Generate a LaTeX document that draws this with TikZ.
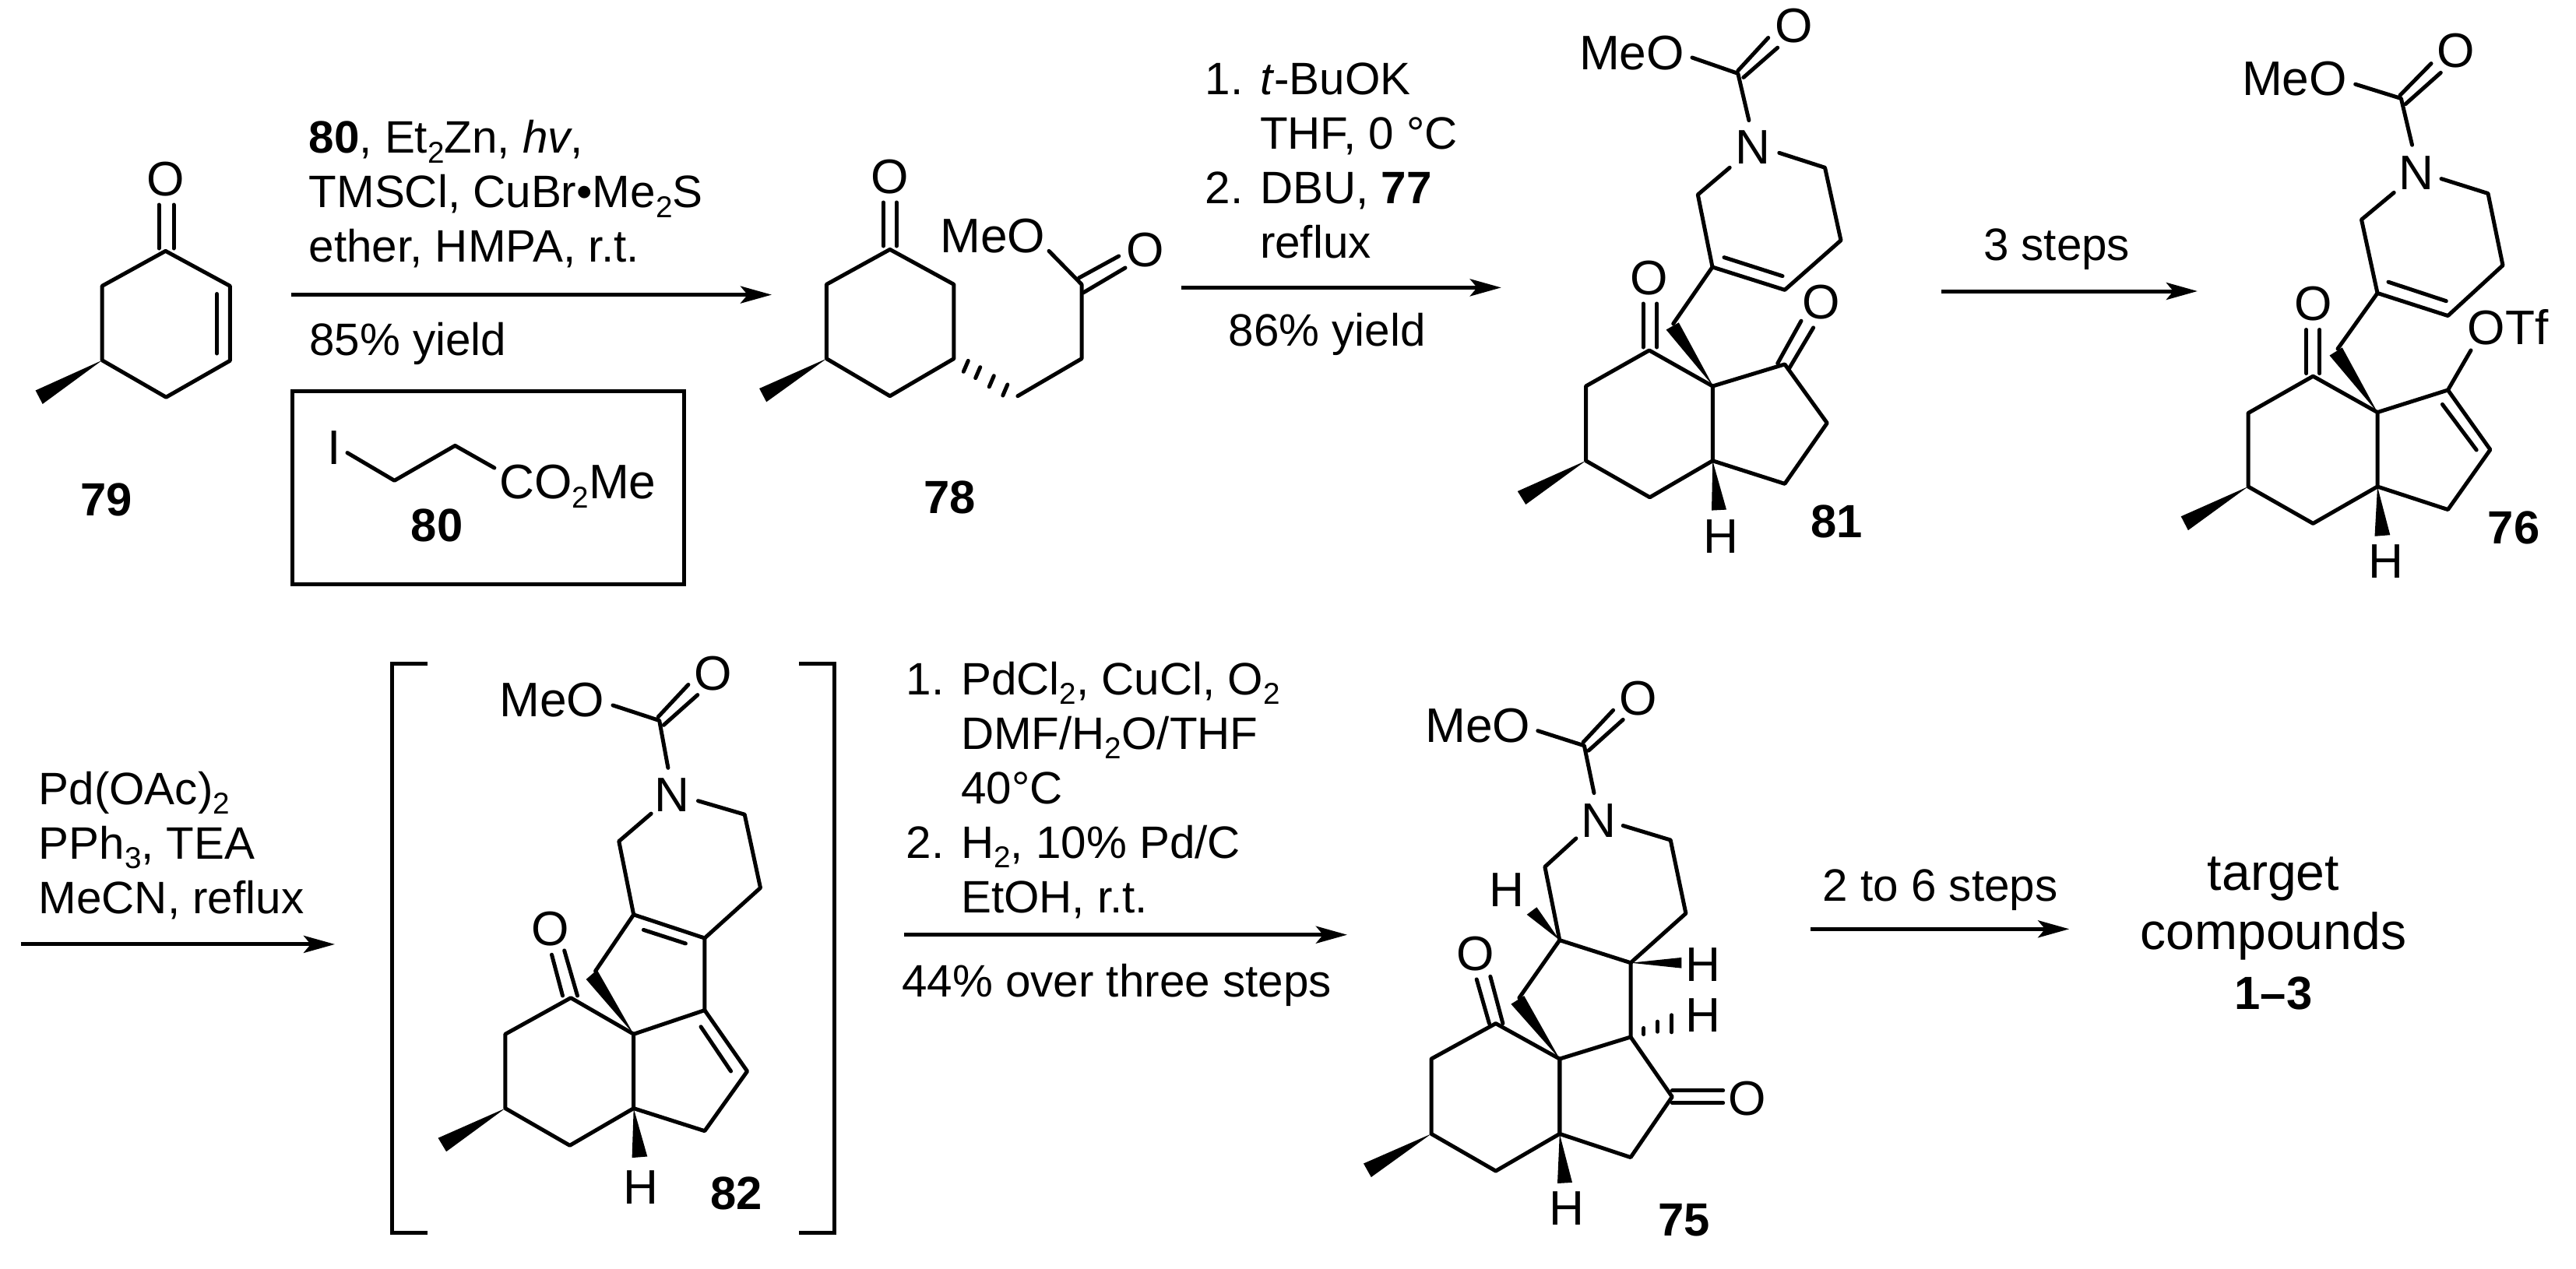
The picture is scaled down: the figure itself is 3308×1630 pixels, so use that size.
\documentclass[tikz,border=0pt]{standalone}
\usepackage{fontspec}
\setmainfont{Liberation Sans}
\usetikzlibrary{arrows.meta}
\newcommand{\dn}[1]{\raisebox{-3.6pt}{\fontsize{11}{12}\selectfont #1}}
\newcommand{\wedgeb}[3]{\fill (#1) -- (#2) -- (#3) -- cycle;}
\tikzset{
	bond/.style={line width=0.05cm,line cap=round,line join=round},
	rxn/.style={line width=0.05cm,-{Stealth[length=0.4cm,width=0.22cm,inset=0.09cm]}},
	atom/.style={font=\fontsize{17.7}{20}\selectfont,inner sep=0pt},
	atomw/.style={atom,anchor=base west},
	cmpd/.style={font=\fontsize{17}{20}\selectfont\bfseries,inner sep=0pt},
	cond/.style={font=\fontsize{16.6}{19.9}\selectfont,inner sep=0pt,align=left,anchor=base west}
}
\begin{document}
\begin{tikzpicture}[x=0.01cm,y=-0.01cm]
	\useasboundingbox (0,0) rectangle (3308,1630);
	% 79
	\node[atom] (o79) at (212.6,229.6) {O};
	\draw[bond] (212.6,322.4) -- (295.3,367.3) -- (295.3,463.3) -- (213.3,510.2) -- (131.2,462.8) -- (131.2,367.3) -- cycle;
	\draw[bond] (204,263) -- (204,319) (223,263) -- (223,319) (278.5,377.5) -- (278.5,454);
	\wedgeb{131.2,462.8}{45.6,501.5}{54.7,518.9}
	\node[cmpd] (lab79) at (136.8,641.8) {79};
	% first arrow, box with 80
	\coordinate (a1s) at (374,378.6);
	\coordinate (a1e) at (991,378.6);
	\draw[rxn] (a1s) -- (a1e);
	\node[cond] (c1) at (396,336.4) {\textbf{80}, Et\dn{2}Zn, \textit{hv},\\TMSCl, CuBr•Me\dn{2}S\\ether, HMPA, r.t.};
	\node[cond] (y1) at (396.4,456.6) {85\% yield};
	\draw[line width=0.05cm] (375.3,502.6) rectangle (878.3,750);
	\node[atom] (i80) at (429.3,575) {I};
	\draw[bond] (446,581.6) -- (506.5,617.3) -- (584.4,572.4) -- (634.9,601);
	\node[atomw] (co80) at (640.5,640) {CO\dn{2}Me};
	\node[cmpd] (lab80) at (561.2,674.5) {80};
	% 78
	\node[atom] (o78) at (1142.8,227) {O};
	\draw[bond] (1142.8,320.4) -- (1224.9,365.3) -- (1224.9,460.7) -- (1142.8,508.7) -- (1061.4,460.7) -- (1061.4,365.3) -- cycle;
	\draw[bond] (1134.4,260) -- (1134.4,316) (1151.2,260) -- (1151.2,316);
	\wedgeb{1061.4,460.7}{975.1,499}{984.2,516.3}
	\foreach \hx/\hy in {1240.3/470.4,1255.7/478.6,1273.3/489.8,1290.8/501}{
		\draw[bond] (\hx+3,\hy-7) -- (\hx-3,\hy+7);}
	\draw[bond] (1306.9,508.7) -- (1389,460.7) -- (1389,365.3) -- (1347,322.4);
	\draw[bond] (1385.5,357) -- (1436.7,329) (1391,376) -- (1445,344);
	\node[atom] (o78b) at (1470.4,321.4) {O};
	\node[atomw] (meo78) at (1206.6,324) {MeO};
	\node[cmpd] (lab78) at (1219.3,639.3) {78};
	% second arrow
	\coordinate (a2s) at (1517.4,369.4);
	\coordinate (a2e) at (1927.8,369.4);
	\draw[rxn] (a2s) -- (a2e);
	\node[cond] (c2) at (1547,331.6) {1. \textit{t}-BuOK\\\phantom{1. }THF, 0 °C\\2. DBU, \textbf{77}\\\phantom{1. }reflux};
	\node[cond] (y2) at (1577,444) {86\% yield};
	% 81
	\node[atomw] (meo81) at (2027.4,89.3) {MeO};
	\node[atom] (o81a) at (2303.2,33.2) {O};
	\node[atom] (n81) at (2250.9,188.8) {N};
	\draw[bond] (2173,74) -- (2231.8,94.4) -- (2245.9,154.6);
	\draw[bond] (2231.8,90.8) -- (2270.7,48.5) (2238.9,99.5) -- (2282.7,61.2);
	\draw[bond] (2284.8,196.4) -- (2343.5,215.3) -- (2364,308.7) -- (2291.9,372.4) -- (2199,343) -- (2180.3,250) -- (2221.2,215.3);
	\draw[bond] (2214,330.6) -- (2289,354.6);
	\draw[bond] (2199,343) -- (2148.7,415.8);
	\wedgeb{2200,496}{2139.6,423.5}{2155.8,414.3}
	\node[atom] (o81b) at (2117.9,357.1) {O};
	\draw[bond] (2110,390) -- (2110,446) (2127.7,390) -- (2127.7,446);
	\draw[bond] (2117.9,450) -- (2036.5,496) -- (2036.5,591.8) -- (2118.6,638.8) -- (2199.3,591.8) -- (2199.3,496) -- cycle;
	\wedgeb{2036.5,591.8}{1948.8,631}{1959.3,648}
	\draw[bond] (2199.3,496) -- (2291.9,467.9) -- (2346.3,543.4) -- (2291.9,621.4) -- (2199.3,591.8);
	\draw[bond] (2282.7,466.8) -- (2313,412.2) (2296.8,474.5) -- (2328.6,420.9);
	\node[atom] (o81c) at (2338.5,387.8) {O};
	\wedgeb{2199.3,591.8}{2198,655.6}{2217,654.6}
	\node[atom] (h81) at (2210,689) {H};
	\node[cmpd] (lab81) at (2358.3,670) {81};
	% third arrow
	\coordinate (a3s) at (2493.3,374);
	\coordinate (a3e) at (2821.9,374);
	\draw[rxn] (a3s) -- (a3e);
	\node[cond] (c3) at (2546.3,334) {3 steps};
	% 76
	\node[atomw] (meo76) at (2878.4,122.4) {MeO};
	\node[atom] (o76a) at (3154,65.3) {O};
	\node[atom] (n76) at (3102.5,222) {N};
	\draw[bond] (3024.7,108.2) -- (3083.4,126.5) -- (3097.5,186.2);
	\draw[bond] (3082,122.4) -- (3122,81.6) (3089,133.7) -- (3134.3,93.4);
	\draw[bond] (3135,229.6) -- (3195,248.5) -- (3214,340.8) -- (3143.5,405.6) -- (3053,376.5) -- (3032.5,282.1) -- (3074.2,247.4);
	\draw[bond] (3067,362.2) -- (3141.3,386.7);
	\draw[bond] (3053,376.5) -- (3002,448);
	\wedgeb{3053,529.6}{2991.5,456.6}{3007.8,446.4}
	\node[atom] (o76b) at (2970.3,390.3) {O};
	\draw[bond] (2961.8,423.5) -- (2961.8,479.6) (2978.8,423.5) -- (2978.8,479.6);
	\draw[bond] (2970.3,483.2) -- (2887,530.6) -- (2887,625) -- (2970.3,672.4) -- (3053,625) -- (3053,529.6) -- cycle;
	\wedgeb{2887,625}{2800.7,663.3}{2809.9,681.1}
	\draw[bond] (3053,529.6) -- (3143.5,501) -- (3197.9,577.6) -- (3143.5,654.6) -- (3053,625);
	\draw[bond] (3136.4,519.4) -- (3180.2,578) (3143.5,501) -- (3173,450);
	\node[atomw] (otf76) at (3168,442.9) {OTf};
	\wedgeb{3053,625}{3049.5,688.8}{3069.3,687.2}
	\node[atom] (h76) at (3063.6,721) {H};
	\node[cmpd] (lab76) at (3228,677.6) {76};
	% fourth arrow
	\coordinate (a4s) at (26.7,1212.9);
	\coordinate (a4e) at (430,1212.9);
	\draw[rxn] (a4s) -- (a4e);
	\node[cond] (c4) at (49,1173.2) {Pd(OAc)\dn{2}\\PPh\dn{3}, TEA\\MeCN, reflux};
	% brackets
	\draw[bond,line cap=butt,line join=miter] (548.6,852.9) -- (503.7,852.9) -- (503.7,1583.5) -- (548.6,1583.5);
	\draw[bond,line cap=butt,line join=miter] (1026.3,852.9) -- (1071.2,852.9) -- (1071.2,1583.5) -- (1026.3,1583.5);
	% 82
	\node[atomw] (meo82) at (640.5,920.7) {MeO};
	\node[atom] (o82a) at (915.5,864.6) {O};
	\node[atom] (n82) at (862.9,1021.3) {N};
	\draw[bond] (787,905.9) -- (846.7,925.5) -- (857.9,986.3);
	\draw[bond] (845.3,920.7) -- (883.9,879.4) (852.3,931.3) -- (895.8,892.6);
	\draw[bond] (896.5,1028.7) -- (956.2,1046.2) -- (976.5,1140.4) -- (904.9,1205) -- (813.7,1174.8) -- (794.8,1080.6) -- (836.2,1045.1);
	\draw[bond] (826.4,1194.4) -- (880.4,1211.9);
	\draw[bond] (813.7,1174.8) -- (764.6,1247.3);
	\wedgeb{813.7,1328.3}{752.7,1257.9}{766.7,1245.7}
	\draw[bond] (904.9,1205) -- (904.9,1297.6) -- (813.7,1328.3);
	\draw[bond] (904.9,1297.6) -- (959.6,1376) -- (904.9,1452.7) -- (813.7,1423.6);
	\draw[bond] (900,1318.8) -- (938.6,1376);
	\node[atom] (o82b) at (706.4,1192.8) {O};
	\draw[bond] (708.5,1226.2) -- (722.5,1279) (724.7,1220.9) -- (741.5,1279);
	\draw[bond] (733,1281.7) -- (648.9,1328.3) -- (648.9,1423.6) -- (731.7,1471.3) -- (813.7,1423.6) -- (813.7,1328.3) -- cycle;
	\wedgeb{648.9,1423.6}{562.6,1461.7}{573.1,1479.2}
	\wedgeb{813.7,1423.6}{811.6,1487.1}{831.3,1485.5}
	\node[atom] (h82) at (822.9,1525.3) {H};
	\node[cmpd] (lab82) at (945.6,1533.2) {82};
	% fifth arrow
	\coordinate (a5s) at (1161,1200.7);
	\coordinate (a5e) at (1730,1200.7);
	\draw[rxn] (a5s) -- (a5e);
	\node[cond] (c5) at (1163.1,1172.2) {1. PdCl\dn{2}, CuCl, O\dn{2}\\\phantom{1. }DMF/H\dn{2}O/THF\\\phantom{1. }40°C\\2. H\dn{2}, 10\% Pd/C\\\phantom{1. }EtOH, r.t.};
	\node[cond] (y5) at (1157.5,1280.7) {44\% over three steps};
	% 75
	\node[atomw] (meo75) at (1829.6,953.5) {MeO};
	\node[atom] (o75a) at (2103.2,896.9) {O};
	\node[atom] (n75) at (2052.6,1054.1) {N};
	\draw[bond] (1974.8,938.7) -- (2034.4,957.8) -- (2047,1018.6);
	\draw[bond] (2033,953.5) -- (2071.6,912.2) (2040,964.1) -- (2084.2,924.4);
	\draw[bond] (2084.2,1060.5) -- (2145.2,1079) -- (2164.9,1173.2) -- (2094,1236.7) -- (2002.8,1207.6) -- (1983.9,1113.4) -- (2023.9,1076.9);
	\wedgeb{2002.8,1207.6}{1960.7,1174.8}{1973.4,1165.3}
	\node[atom] (h75a) at (1934.8,1143) {H};
	\wedgeb{2094,1236.7}{2159.3,1229.9}{2159.3,1243.6}
	\node[atom] (h75b) at (2187,1239) {H};
	\draw[bond] (2094,1236.7) -- (2094,1332) -- (2002.8,1360.1);
	\foreach \hx/\hy/\hl in {2110.9/1324.5/4,2128.4/1318.7/6.5,2146.7/1314.8/11}{
		\draw[bond] (\hx,\hy-\hl) -- (\hx,\hy+\hl);}
	\node[atom] (h75c) at (2187,1304) {H};
	\draw[bond] (2094,1332) -- (2147.3,1408.8) -- (2094,1486.6) -- (2002.8,1456.4) -- (2002.8,1360.1);
	\draw[bond] (2147.3,1400.8) -- (2212.7,1400.8) (2147.3,1416.7) -- (2212.7,1416.7);
	\node[atom] (o75c) at (2243.8,1411.4) {O};
	\draw[bond] (2002.8,1207.6) -- (1950.9,1281.7);
	\wedgeb{2002.8,1360.1}{1940.4,1289.7}{1957.2,1279.1}
	\node[atom] (o75b) at (1894.8,1224.6) {O};
	\draw[bond] (1896.2,1257.9) -- (1912.4,1314.6) (1913.8,1254.2) -- (1929.9,1314.6);
	\draw[bond] (1920.8,1314.6) -- (1838,1360.1) -- (1838,1456.4) -- (1920.8,1504.1) -- (2002.8,1456.4) -- (2002.8,1360.1) -- cycle;
	\wedgeb{1838,1456.4}{1751,1494.5}{1760.8,1512}
	\wedgeb{2002.8,1456.4}{2000,1520}{2019,1518.9}
	\node[atom] (h75d) at (2012,1551.7) {H};
	\node[cmpd] (lab75) at (2162.8,1567.6) {75};
	% last arrow
	\coordinate (a6s) at (2325.1,1193.3);
	\coordinate (a6e) at (2657.2,1193.3);
	\draw[rxn] (a6s) -- (a6e);
	\node[cond] (c6) at (2340,1157.3) {2 to 6 steps};
	\node[font=\fontsize{18.8}{21.8}\selectfont,inner sep=0pt,align=center,anchor=base] (target) at (2919.4,1296.6) {target\\compounds\\{\fontsize{17}{21.8}\selectfont\bfseries 1–3}};
\end{tikzpicture}
\end{document}
